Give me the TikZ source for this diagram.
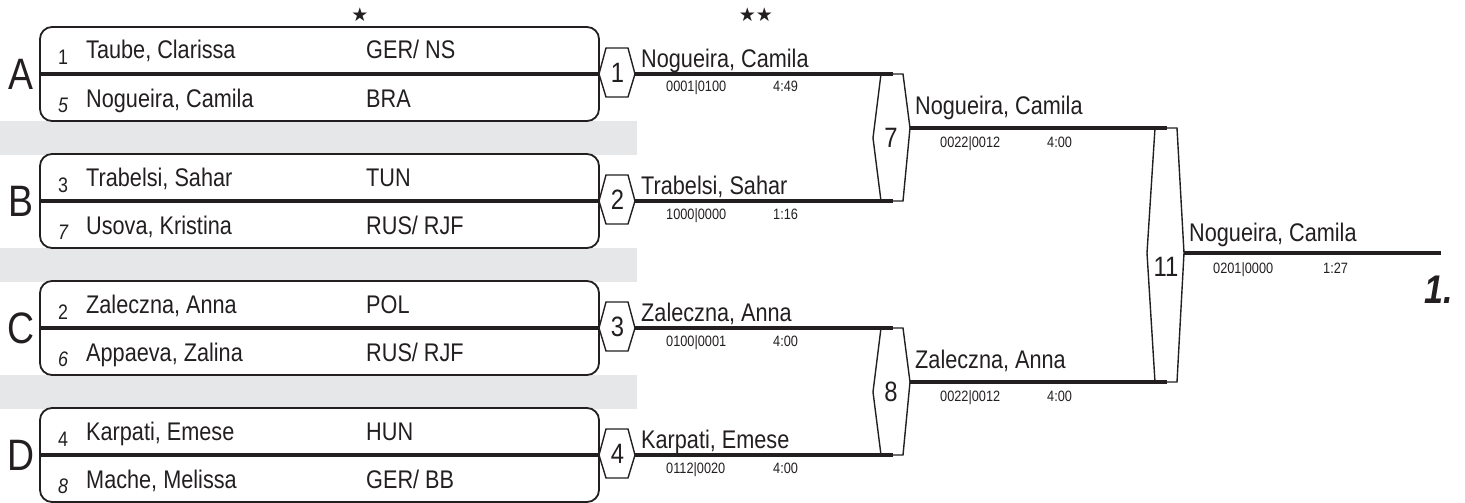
\documentclass[tikz,border=0pt]{standalone}
\usepackage{fontspec}
\setmainfont{Liberation Sans}[FakeStretch=0.85]
\newfontfamily\symfont{DejaVu Sans}
\definecolor{band}{HTML}{E6E7E8}
\definecolor{ink}{HTML}{231F20}
\tikzset{
  thickline/.style={draw=ink, line width=3.2pt},
  boxline/.style={draw=ink, line width=1.8pt, rounded corners=12pt},
  bline/.style={draw=ink, line width=1.4pt, line join=miter},
  pname/.style={font=\fontsize{25.5}{28}\selectfont, anchor=base west, inner sep=0pt, text=ink},
  seedno/.style={font=\fontsize{21}{24}\selectfont, anchor=base west, inner sep=0pt, text=ink},
  score/.style={font=\fontsize{15}{17}\selectfont, anchor=base west, inner sep=0pt, text=ink},
  numlbl/.style={font=\fontsize{28}{30}\selectfont, anchor=center, inner sep=0pt, text=ink},
  grplbl/.style={font=\fontsize{44}{46}\selectfont, anchor=center, inner sep=0pt, text=ink},
  starlbl/.style={font=\symfont\fontsize{19}{21}\selectfont, anchor=center, inner sep=0pt, text=ink}
}
\newcommand\poolgroup[9]{%
  % #1 id, #2 centre y, #3 letter, #4 seed1, #5 name1, #6 country1, #7 seed2, #8 name2, #9 country2
  \draw[boxline] (40,#2-47) rectangle (599,#2+47);
  \coordinate (#1-l) at (40,#2);
  \coordinate (#1-r) at (599,#2);
  \draw[thickline] (#1-l) -- (#1-r);
  \node[grplbl] (#1-letter) at (21,#2) {#3};
  \node[seedno] (#1-s1) at (58,#2-9) {#4};
  \node[pname] (#1-n1) at (86,#2-15) {#5};
  \node[pname] (#1-c1) at (366,#2-15) {#6};
  \node[seedno] (#1-s2) at (58,#2+38) {\itshape #7};
  \node[pname] (#1-n2) at (86,#2+33) {#8};
  \node[pname] (#1-c2) at (366,#2+33) {#9};
}
\newcommand\hexmatch[3]{%
  % #1 id, #2 centre y, #3 number
  \draw[bline] (599,#2) -- (606,#2-26) -- (628,#2-26) -- (635,#2) -- (628,#2+23) -- (606,#2+23) -- cycle;
  \node[numlbl] (#1-no) at (617.5,#2-1) {#3};
  \coordinate (#1-out) at (635,#2);
}
\begin{document}
\begin{tikzpicture}[x=1pt,y=-1pt]
\useasboundingbox (0,0) rectangle (1465,503);
% grey bands
\fill[band] (0,121) rectangle (637,155);
\fill[band] (0,248) rectangle (637,282);
\fill[band] (0,375) rectangle (637,409);
% stars
\node[starlbl] (star1) at (360,15) {★};
\node[starlbl] (star2) at (756,15) {★★};
% pools
\poolgroup{A}{74}{A}{1}{Taube, Clarissa}{GER/ NS}{5}{Nogueira, Camila}{BRA}
\poolgroup{B}{201}{B}{3}{Trabelsi, Sahar}{TUN}{7}{Usova, Kristina}{RUS/ RJF}
\poolgroup{C}{328}{C}{2}{Zaleczna, Anna}{POL}{6}{Appaeva, Zalina}{RUS/ RJF}
\poolgroup{D}{455}{D}{4}{Karpati, Emese}{HUN}{8}{Mache, Melissa}{GER/ BB}
% first round hexagons
\hexmatch{m1}{74}{1}
\hexmatch{m2}{201}{2}
\hexmatch{m3}{328}{3}
\hexmatch{m4}{455}{4}
% second round brackets
\draw[bline] (881,74) -- (873,138) -- (881,201) -- (903,201) -- (910,128) -- (903,74) -- cycle;
\node[numlbl] (m7-no) at (891,138) {7};
\coordinate (m7-a) at (893,74);
\coordinate (m7-b) at (893,201);
\coordinate (m7-out) at (910,128);
\draw[bline] (881,328) -- (873,392) -- (881,455) -- (903,455) -- (910,382) -- (903,328) -- cycle;
\node[numlbl] (m8-no) at (891,392) {8};
\coordinate (m8-a) at (893,328);
\coordinate (m8-b) at (893,455);
\coordinate (m8-out) at (910,382);
% final bracket
\draw[bline] (1155,128) -- (1147,253) -- (1155,382) -- (1177,382) -- (1184,253) -- (1177,128) -- cycle;
\node[numlbl] (m11-no) at (1166,267) {11};
\coordinate (m11-a) at (1167,128);
\coordinate (m11-b) at (1167,382);
\coordinate (m11-out) at (1184,253);
\coordinate (end) at (1441,253);
% winner lines
\draw[thickline] (m1-out) -- (m7-a);
\draw[thickline] (m2-out) -- (m7-b);
\draw[thickline] (m3-out) -- (m8-a);
\draw[thickline] (m4-out) -- (m8-b);
\draw[thickline] (m7-out) -- (m11-a);
\draw[thickline] (m8-out) -- (m11-b);
\draw[thickline] (m11-out) -- (end);
% round 1 labels
\node[pname] (w1) at (641,67) {Nogueira, Camila};
\node[score] (w1s) at (666,92) {0001|0100};
\node[score] (w1t) at (773,92) {4:49};
\node[pname] (w2) at (641,194) {Trabelsi, Sahar};
\node[score] (w2s) at (666,219) {1000|0000};
\node[score] (w2t) at (773,219) {1:16};
\node[pname] (w3) at (641,321) {Zaleczna, Anna};
\node[score] (w3s) at (666,346) {0100|0001};
\node[score] (w3t) at (773,346) {4:00};
\node[pname] (w4) at (641,448) {Karpati, Emese};
\node[score] (w4s) at (666,473) {0112|0020};
\node[score] (w4t) at (773,473) {4:00};
% round 2 labels
\node[pname] (w7) at (915,114) {Nogueira, Camila};
\node[score] (w7s) at (940,147) {0022|0012};
\node[score] (w7t) at (1047,147) {4:00};
\node[pname] (w8) at (915,368) {Zaleczna, Anna};
\node[score] (w8s) at (940,401) {0022|0012};
\node[score] (w8t) at (1047,401) {4:00};
% final labels
\node[pname] (w11) at (1189,241) {Nogueira, Camila};
\node[score] (w11s) at (1213,273) {0201|0000};
\node[score] (w11t) at (1323,273) {1:27};
\node[font=\bfseries\itshape\fontsize{40}{44}\selectfont, anchor=base west, inner sep=0pt, text=ink] (place) at (1424,303) {1.};
\end{tikzpicture}
\end{document}
